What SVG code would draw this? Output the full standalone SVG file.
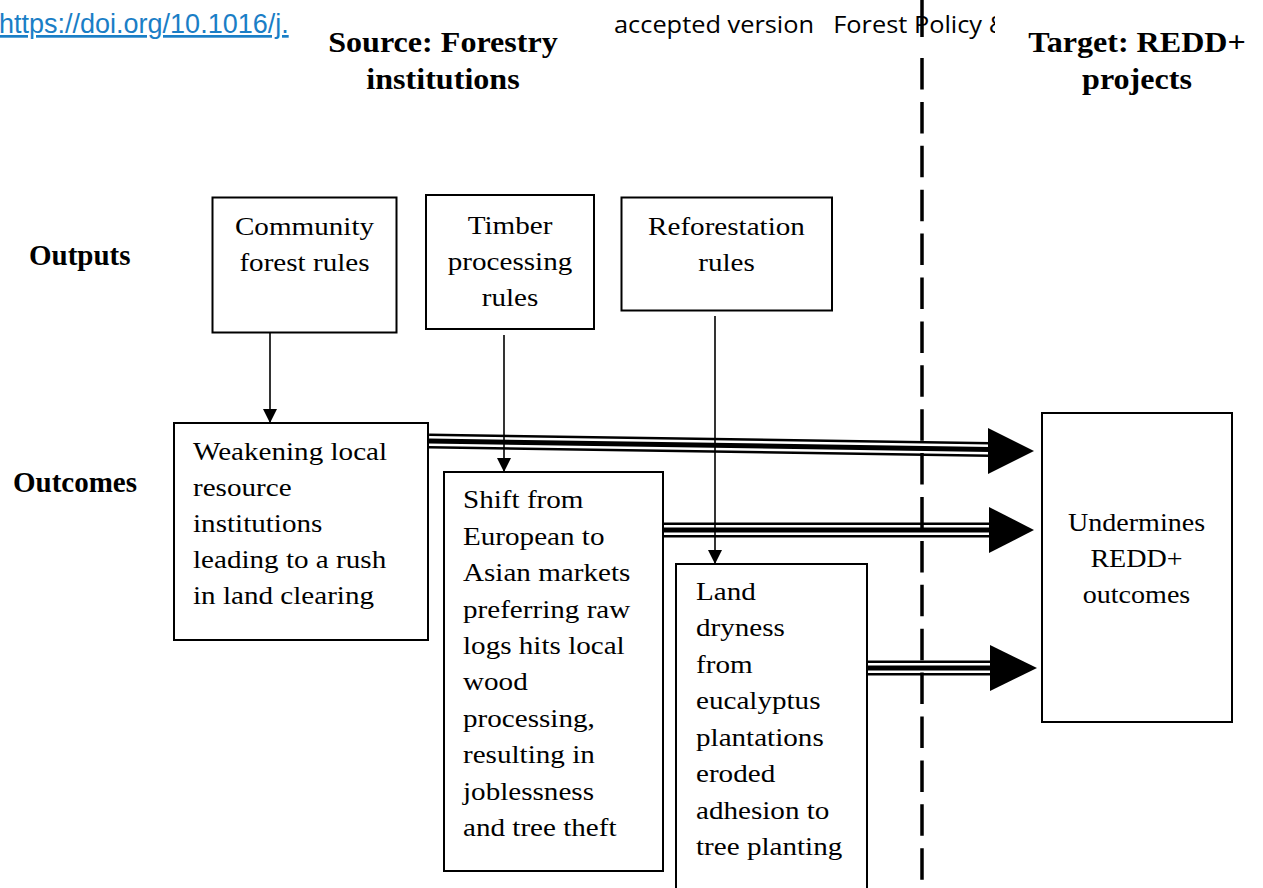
<svg xmlns="http://www.w3.org/2000/svg" width="1263" height="888" viewBox="0 0 1263 888">
<style>
.box{fill:#fff;stroke:#000;stroke-width:2}
.t{font-family:"Liberation Serif","Times New Roman",serif;font-size:26px;fill:#000}
.c{text-anchor:middle}
.h{font-family:"Liberation Serif","Times New Roman",serif;font-size:30px;font-weight:bold;fill:#000}
.lab{font-family:"Liberation Serif","Times New Roman",serif;font-size:29px;font-weight:bold;fill:#000}
.thin{stroke:#000;stroke-width:1.6;fill:none}
.o{stroke:#000;stroke-width:15;fill:none}
.w{stroke:#fff;stroke-width:10;fill:none}
.i{stroke:#000;stroke-width:5;fill:none}
.head{fill:#000}
.dash{stroke:#000;stroke-width:3.5;fill:none}
</style>
<defs>
<marker id="ah" viewBox="0 0 14 14" refX="14" refY="7" markerWidth="14" markerHeight="14" markerUnits="userSpaceOnUse" orient="auto">
<path d="M0,0 L14,7 L0,14 z" fill="#000"/>
</marker>
<clipPath id="hdrclip"><rect x="0" y="0" width="995" height="60"/></clipPath>
</defs>
<rect width="1263" height="888" fill="#fff"/>

<g id="header">
<text x="-1" y="33" font-family="Liberation Sans, Arial, sans-serif" font-size="27" fill="#1a7ec6" text-decoration="underline">https://doi.org/10.1016/j.</text>
<g clip-path="url(#hdrclip)">
<g transform="translate(614,0) scale(1.08,1)" font-family="Open Sans, sans-serif" font-size="23.5" fill="#000">
<text x="0" y="33">accepted version</text>
<text x="203" y="33">Forest Policy &amp;</text>
</g>
</g>
</g>

<g id="title-source"><g transform="translate(443,0) scale(1.07,1)"><text class="h c" x="0" y="52">Source: Forestry</text><text class="h c" x="0" y="89">institutions</text></g></g>
<g id="title-target"><g transform="translate(1137,0) scale(1.07,1)"><text class="h c" x="0" y="52">Target: REDD+</text><text class="h c" x="0" y="89">projects</text></g></g>
<g id="label-outputs"><text class="lab" x="29" y="265">Outputs</text></g>
<g id="label-outcomes"><text class="lab" x="13" y="492">Outcomes</text></g>

<g id="connectors">
<g id="triple1">
<path class="o" d="M429,441 L990,449.5"/><path class="w" d="M429,441 L990,449.5"/><path class="i" d="M429,441 L990,449.5"/>
<polygon class="head" points="988,428 1034,451 988,474"/>
</g>
<g id="triple2">
<path class="o" d="M663,530 L990,530"/><path class="w" d="M663,530 L990,530"/><path class="i" d="M663,530 L990,530"/>
<polygon class="head" points="989,507 1034,530 989,553"/>
</g>
<g id="triple3">
<path class="o" d="M866,668 L990,668"/><path class="w" d="M866,668 L990,668"/><path class="i" d="M866,668 L990,668"/>
<polygon class="head" points="990,645 1037,668 990,691"/>
</g>
<line class="thin" x1="270" y1="333" x2="270" y2="423" marker-end="url(#ah)"/>
<line class="thin" x1="504" y1="335" x2="504" y2="472" marker-end="url(#ah)"/>
<line class="thin" x1="715" y1="316" x2="715" y2="564" marker-end="url(#ah)"/>
<line class="dash" x1="922" y1="0" x2="922" y2="37"/>
<line class="dash" x1="922" y1="58" x2="922" y2="888" stroke-dasharray="31.5 12.4"/>
</g>

<g id="node-community">
<rect class="box" x="212.5" y="197.5" width="184" height="135"/>
<g transform="translate(304.5,0) scale(1.12,1)"><text class="t c" x="0" y="235">Community</text><text class="t c" x="0" y="271">forest rules</text></g>
</g>
<g id="node-timber">
<rect class="box" x="426" y="195" width="168" height="134"/>
<g transform="translate(510,0) scale(1.12,1)"><text class="t c" x="0" y="234">Timber</text><text class="t c" x="0" y="270">processing</text><text class="t c" x="0" y="306">rules</text></g>
</g>
<g id="node-reforestation">
<rect class="box" x="621.5" y="197.5" width="210.5" height="113"/>
<g transform="translate(726.5,0) scale(1.12,1)"><text class="t c" x="0" y="235">Reforestation</text><text class="t c" x="0" y="271">rules</text></g>
</g>
<g id="node-weakening">
<rect class="box" x="174" y="423" width="254" height="217"/>
<g transform="translate(193,0) scale(1.12,1)"><text class="t" x="0" y="460">Weakening local</text><text class="t" x="0" y="496">resource</text><text class="t" x="0" y="532">institutions</text><text class="t" x="0" y="568">leading to a rush</text><text class="t" x="0" y="604">in land clearing</text></g>
</g>
<g id="node-shift">
<rect class="box" x="444" y="472" width="219" height="399"/>
<g transform="translate(463,0) scale(1.12,1)"><text class="t" x="0" y="508.5">Shift from</text><text class="t" x="0" y="545">European to</text><text class="t" x="0" y="581.3">Asian markets</text><text class="t" x="0" y="617.7">preferring raw</text><text class="t" x="0" y="654">logs hits local</text><text class="t" x="0" y="690.5">wood</text><text class="t" x="0" y="727">processing,</text><text class="t" x="0" y="763.3">resulting in</text><text class="t" x="0" y="799.7">joblessness</text><text class="t" x="0" y="836">and tree theft</text></g>
</g>
<g id="node-land">
<rect class="box" x="676" y="564" width="191" height="340"/>
<g transform="translate(696,0) scale(1.12,1)"><text class="t" x="0" y="600">Land</text><text class="t" x="0" y="636.5">dryness</text><text class="t" x="0" y="673">from</text><text class="t" x="0" y="709.5">eucalyptus</text><text class="t" x="0" y="746">plantations</text><text class="t" x="0" y="782">eroded</text><text class="t" x="0" y="819">adhesion to</text><text class="t" x="0" y="855">tree planting</text></g>
</g>
<g id="node-undermines">
<rect class="box" x="1042" y="413" width="190" height="309"/>
<g transform="translate(1136.5,0) scale(1.08,1)"><text class="t c" x="0" y="531">Undermines</text><text class="t c" x="0" y="567">REDD+</text><text class="t c" x="0" y="603">outcomes</text></g>
</g>
</svg>
